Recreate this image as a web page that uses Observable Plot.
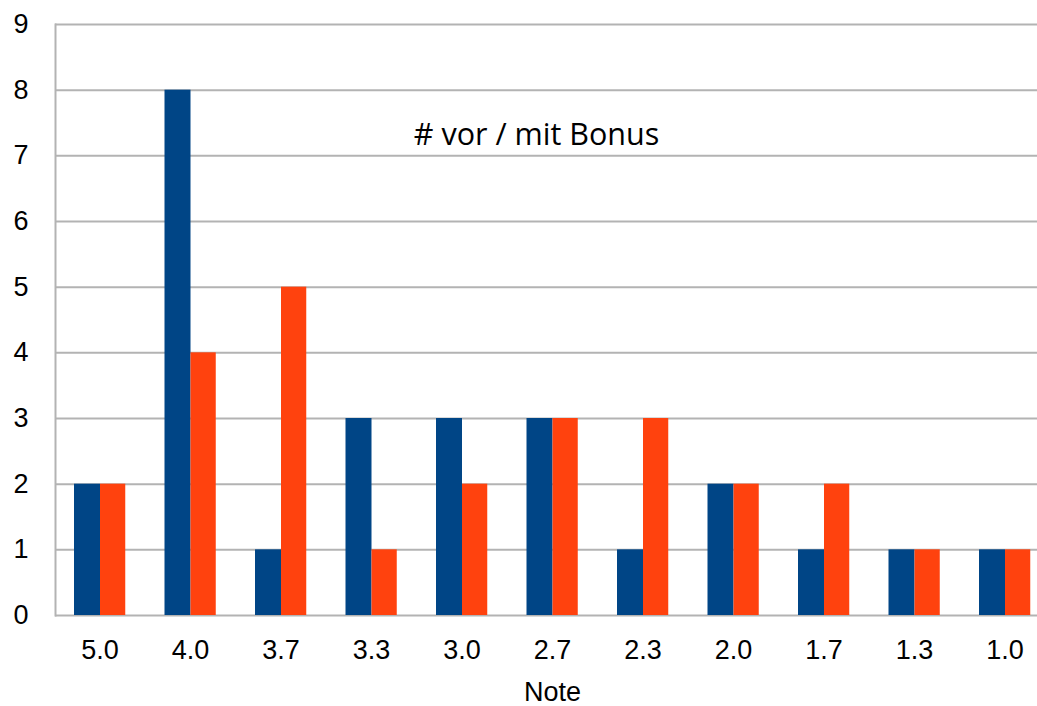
<!DOCTYPE html>
<html>
<head>
<meta charset="utf-8">
<script src="https://cdn.jsdelivr.net/npm/d3@7"></script>
<script src="https://cdn.jsdelivr.net/npm/@observablehq/plot@0.6"></script>
<style>
  html, body { margin: 0; padding: 0; background: #fff; overflow: hidden; }
  #chart svg { display: block; overflow: hidden; }
</style>
</head>
<body>
<div id="chart"></div>
<script>
const categories = ["5.0", "4.0", "3.7", "3.3", "3.0", "2.7", "2.3", "2.0", "1.7", "1.3", "1.0"];
const vorBonus = [2, 8, 1, 3, 3, 3, 1, 2, 1, 1, 1];
const mitBonus = [2, 4, 5, 1, 2, 3, 3, 2, 2, 1, 1];
const yTicks = [0, 1, 2, 3, 4, 5, 6, 7, 8, 9];
const title = "# vor / mit Bonus";
const xLabel = "Note";

const blue = "#004586";
const orange = "#ff420e";
const grid = "#b3b3b3";

const vorData = categories.map((c, i) => ({cat: c, value: vorBonus[i]}));
const mitData = categories.map((c, i) => ({cat: c, value: mitBonus[i]}));

const chart = Plot.plot({
  width: 1037,
  height: 706,
  marginLeft: 55,
  marginRight: 0,
  marginTop: 24,
  marginBottom: 91,
  style: {fontFamily: "'Liberation Sans', Arial, sans-serif", fontSize: "27px", color: "#000"},
  x: {type: "band", domain: categories, range: [54.25, 1049.75], padding: 0, round: false},
  y: {domain: [0, 9]},
  marks: [
    Plot.ruleY(yTicks, {stroke: grid, strokeWidth: 2}),
    Plot.frame({anchor: "left", stroke: grid, strokeWidth: 2}),
    Plot.barY(vorData, {x: "cat", y: "value", fill: blue, insetLeft: 19.75, insetRight: 44.75}),
    Plot.barY(mitData, {x: "cat", y: "value", fill: orange, insetLeft: 45.75, insetRight: 19.5}),
    Plot.axisY(yTicks, {tickSize: 0, tickPadding: 27, fontSize: 27, fill: "#000", label: null, tickFormat: "d"}),
    Plot.axisX({tickSize: 0, tickPadding: 24, fontSize: 27, fill: "#000", label: null}),
    Plot.text([xLabel], {frameAnchor: "bottom", lineAnchor: "bottom", dy: 85, dx: 6, fontSize: 27, fill: "#000"}),
    Plot.text([title], {frameAnchor: "top", lineAnchor: "bottom", dy: 120, dx: -10, fontSize: 30.5, fontFamily: "'Open Sans', Lato, sans-serif", fill: "#000"})
  ]
});
document.getElementById("chart").appendChild(chart);
</script>
</body>
</html>
